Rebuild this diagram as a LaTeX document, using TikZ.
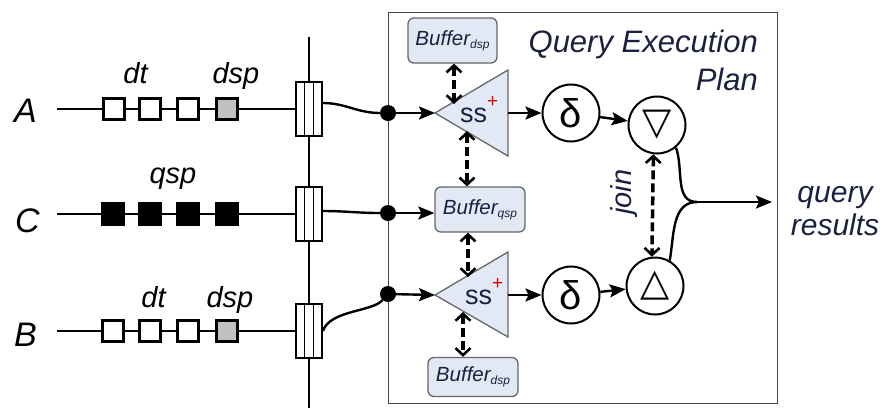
\documentclass[tikz,border=0pt]{standalone}
\usepackage{fontspec}
\setmainfont{Liberation Sans}
\newfontfamily\symfont{DejaVu Sans}
\usetikzlibrary{arrows.meta,calc}
\definecolor{pale}{HTML}{E3E9F4}
\definecolor{frame}{HTML}{444444}
\definecolor{edge}{HTML}{666666}
\definecolor{ink}{HTML}{1B2040}
\definecolor{tokgray}{HTML}{C0C0C0}
\newcommand\fsz[1]{\fontsize{#1}{#1}\selectfont}
\newcommand\bsub[1]{\raisebox{-3pt}{\fsz{12}#1}}
\newcommand\plus{\raisebox{15pt}{\fsz{19}\color{red!85!black}+}}
\begin{document}
\begin{tikzpicture}[x=1pt,y=-1pt,
  streamlbl/.style={font=\fsz{34}\itshape, anchor=base west, inner sep=0pt},
  toklbl/.style={font=\fsz{29}\itshape, anchor=base, inner sep=0pt},
  tok/.style={draw, line width=2.6pt, minimum size=21.5pt, inner sep=0pt, fill=white},
  qtok/.style={tok, fill=black},
  ptok/.style={tok, fill=tokgray},
  filt/.style={draw, line width=1.8pt, minimum width=26pt, minimum height=54pt, inner sep=0pt, fill=white},
  stripe/.style={line width=1.5pt},
  dot/.style={circle, fill=black, minimum size=16pt, inner sep=0pt},
  buf/.style={draw=edge, line width=1.3pt, fill=pale, rounded corners=6pt, inner sep=0pt, font=\fsz{20.5}\itshape, text=ink},
  op/.style={circle, draw, line width=2pt, minimum size=57pt, inner sep=0pt},
  tri/.style={draw=edge, line width=1.3pt, fill=pale},
  sslbl/.style={font=\fsz{27}, text=ink, anchor=base west, inner sep=0pt},
  arr/.style={line width=2.4pt, -{Stealth[length=16pt,width=13pt,inset=3pt]}},
  link/.style={line width=2.4pt},
  dbl/.style={line width=3.5pt, dash pattern=on 9pt off 4pt,
    {Straight Barb[length=7pt,width=15pt,line width=2.6pt]}-{Straight Barb[length=7pt,width=15pt,line width=2.6pt]}},
]
\useasboundingbox (0,0) rectangle (883,408);

% bus
\coordinate (bustop) at (309,37);
\coordinate (busbot) at (309,408);
\draw[line width=2.8pt] (bustop) -- (busbot);

% main frame
\node[draw=frame, line width=1.4pt, minimum width=389pt, minimum height=391pt, inner sep=0pt, anchor=north west] (plan) at (388,12) {};
\node[font=\fsz{31}\itshape, text=ink, anchor=base east, inner sep=0pt] (ttl1) at (758,52) {Query Execution};
\node[font=\fsz{31}\itshape, text=ink, anchor=base east, inner sep=0pt] (ttl2) at (758,90) {Plan};

% stream labels
\node[streamlbl] (A) at (14,122) {A};
\node[streamlbl] (C) at (15,232) {C};
\node[streamlbl] (B) at (14,346) {B};

% filters
\node[filt] (fA) at (309,109) {};
\node[filt] (fC) at (309,214) {};
\node[filt] (fB) at (309,331) {};
\foreach \f in {fA,fC,fB}{
  \draw[stripe] ($(\f.north west)!1/3!(\f.north east)$) -- ($(\f.south west)!1/3!(\f.south east)$);
  \draw[stripe] ($(\f.north west)!2/3!(\f.north east)$) -- ($(\f.south west)!2/3!(\f.south east)$);
}

% tokens
\node[tok]  (a1) at (114,109) {};
\node[tok]  (a2) at (150,109) {};
\node[tok]  (a3) at (188,109) {};
\node[ptok] (a4) at (227,109) {};
\node[qtok] (c1) at (113,214) {};
\node[qtok] (c2) at (150,214) {};
\node[qtok] (c3) at (188,214) {};
\node[qtok] (c4) at (227,214) {};
\node[tok]  (b1) at (113,331) {};
\node[tok]  (b2) at (150,331) {};
\node[tok]  (b3) at (188,331) {};
\node[ptok] (b4) at (227,331) {};

\coordinate (sA) at (57,109);
\coordinate (sC) at (57,214);
\coordinate (sB) at (57,331);
\draw[link] (sA) -- (a1) -- (a2) -- (a3) -- (a4) -- (fA);
\draw[link] (sC) -- (c1) -- (c2) -- (c3) -- (c4) -- (fC);
\draw[link] (sB) -- (b1) -- (b2) -- (b3) -- (b4) -- (fB);

\node[toklbl] (dtA) at (135.5,83) {dt};
\node[toklbl] (dspA) at (236,83) {dsp};
\node[toklbl] (qspC) at (173,183) {qsp};
\node[toklbl] (dtB) at (153.5,307) {dt};
\node[toklbl] (dspB) at (230,307) {dsp};

% dots
\node[dot] (dA) at (388,113) {};
\node[dot] (dC) at (388,213) {};
\node[dot] (dB) at (388,294) {};

\draw[link] ([yshift=6pt]fA.east) to[out=0,in=180] (dA);
\draw[link] ([yshift=3pt]fC.east) to[out=0,in=180] (dC);
\draw[link] (fB.east) .. controls (330,310) and (372,312) .. (dB);

% triangles
\coordinate (t1w) at (435,113);
\coordinate (t1ne) at (508,70);
\coordinate (t1se) at (508,156);
\coordinate (t1e) at (508,113);
\draw[tri] (t1w) -- (t1ne) -- (t1se) -- cycle;
\node[sslbl] (ss1) at (460,122) {ss\plus};

\coordinate (t2w) at (435,295);
\coordinate (t2ne) at (508,252);
\coordinate (t2se) at (508,337);
\coordinate (t2e) at (508,295);
\draw[tri] (t2w) -- (t2ne) -- (t2se) -- cycle;
\node[sslbl] (ss2) at (465,304) {ss\plus};

% buffers
\node[buf, minimum width=89pt, minimum height=45pt] (bufT) at (452.5,40.5) {Buffer\bsub{dsp}};
\node[buf, minimum width=90pt, minimum height=45pt] (bufQ) at (480,209.5) {Buffer\bsub{qsp}};
\node[buf, minimum width=90pt, minimum height=39pt] (bufB) at (473,377) {Buffer\bsub{dsp}};

% operators
\node[op, font=\fsz{40}] (d1) at (571,113) {δ};
\node[op, font=\fsz{40}] (d2) at (571,295) {δ};
\node[op, font=\symfont\fsz{38}] (nab) at (657,125) {▽};
\node[op, font=\symfont\fsz{38}] (del) at (655,286) {△};

% solid arrows
\draw[arr] (dA) -- (t1w);
\draw[arr] (dC) -- (dC -| bufQ.west);
\draw[arr] (dB) -- (t2w);
\draw[arr] (t1e) -- (d1);
\draw[arr] (t2e) -- (d2);
\draw[arr] (d1) -- (nab);
\draw[arr] (d2) -- (del);

% dashed double arrows
\coordinate (t1top) at (454,104);
\coordinate (t1bot) at (467,131);
\coordinate (t2top) at (468,277);
\coordinate (t2bot) at (463,312);
\draw[dbl] (bufT.south -| t1top) -- (t1top);
\draw[dbl] (t1bot) -- (t1bot |- bufQ.north);
\draw[dbl] (t2top |- bufQ.south) -- (t2top);
\draw[dbl] (t2bot) -- (t2bot |- bufB.north);
\draw[dbl] (nab.-97) -- (del.96);
\node[font=\fsz{29}\itshape, text=ink, rotate=90] (joinlbl) at (624,192) {join};

% merge and output
\coordinate (junc) at (697,202);
\coordinate (qend) at (772,202);
\draw[link] (nab.-50) to[out=-70,in=180] (junc);
\draw[link] (del.60) to[out=80,in=180] (junc);
\draw[arr] (junc) -- (qend);
\node[font=\fontsize{30}{33}\selectfont\itshape, text=ink, align=center] (res) at (835,211) {query\\results};
\end{tikzpicture}
\end{document}
